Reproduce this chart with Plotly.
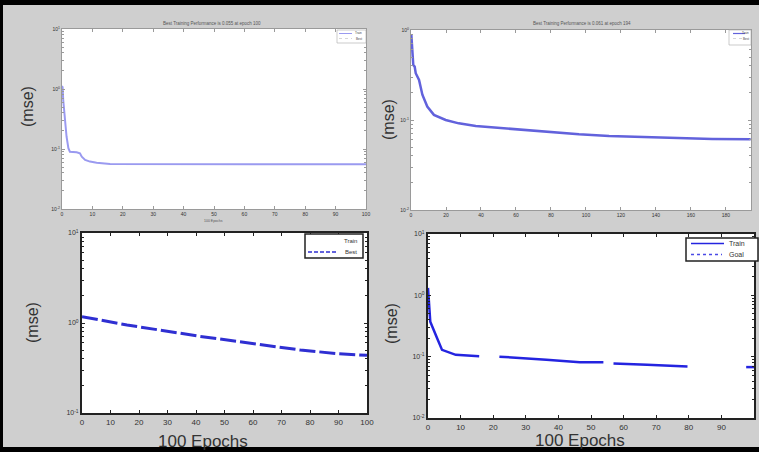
import plotly.graph_objects as go

W, H = 759, 452

# ---------------- data ----------------
# Panel 1 (top-left): training mse, 100 epochs
ep1 = [0, 0.2, 0.4, 1.0, 1.5, 2.1, 2.6, 4.8, 5.9, 6.5, 7.6, 9.2, 11.4, 15.8, 100]
mse1 = [1.122, 1.067, 0.656, 0.304, 0.160, 0.103, 0.0902, 0.0881, 0.0847, 0.0745,
        0.0656, 0.0617, 0.0592, 0.0562, 0.0556]

# Panel 2 (top-right): training mse
ep2 = [0.2, 0.76, 1.3, 2.1, 2.7, 4.6, 6.5, 9.3, 13.1, 19.8, 27.3, 37, 48.4, 61.7,
       75, 84.6, 96, 113.2, 126.5, 143.6, 162.7, 172.2, 194.1]
mse2 = [0.879, 0.653, 0.408, 0.392, 0.331, 0.278, 0.191, 0.141, 0.114, 0.100,
        0.0918, 0.0857, 0.0822, 0.0787, 0.0760, 0.0723, 0.0693, 0.0664, 0.0653,
        0.0637, 0.0621, 0.0615, 0.0610]

# Panel 3 (bottom-left): best (dashed)
ep3 = [0, 15.8, 40.4, 62.6, 76.6, 89.5, 100]
mse3 = [1.175, 0.951, 0.718, 0.579, 0.501, 0.457, 0.437]

# Panel 4 (bottom-right): training mse (gaps as in the reproduction)
ep4 = [0, 0.3, 0.5, 0.7, 2.8, 4.3, 8.5, 15.7, 18, 21.9, 29.1, 36.3, 46.6, 53.8, 55,
       56.9, 63.1, 67.2, 79.6, 88, 97.6, 100]
mse4 = [1.32, 0.75, 0.55, 0.372, 0.200, 0.129, 0.107, 0.102, None, 0.100, 0.0933,
        0.0891, 0.0813, 0.0813, None, 0.0776, 0.0741, 0.0735, 0.0692, None, 0.0676, 0.0676]

ticks10 = list(range(0, 101, 10))
ticks2 = list(range(0, 181, 20))
ylab_a = ["10<sup>-2</sup>", "10<sup>-1</sup>", "10<sup>0</sup>", "10<sup>1</sup>"]
yval_a = [0.01, 0.1, 1, 10]
ylab_b = ["10<sup>-2</sup>", "10<sup>-1</sup>", "10<sup>0</sup>"]
yval_b = [0.01, 0.1, 1]
ylab_c = ["10<sup>-1</sup>", "10<sup>0</sup>", "10<sup>1</sup>"]
yval_c = [0.1, 1, 10]

titles = ["Best Training Performance is 0.055 at epoch 100",
          "Best Training Performance is 0.061 at epoch 194"]
legend_names = [["Train", "Best"], ["Train", "Best"], ["Train", "Best"], ["Train", "Goal"]]

# ---------------- helpers ----------------
def px_x(p):
    return p / W

def px_y(p):
    return 1 - p / H

minor_log = [m * 10 ** k for k in range(-3, 2) for m in range(2, 10)]

FONT = "Liberation Sans, Arial, sans-serif"

def xaxis(x0, x1, anchor, rng, tv, fs, lc, lw):
    return dict(domain=[px_x(x0), px_x(x1)], anchor=anchor, range=rng,
                tickvals=tv, ticktext=[str(v) for v in tv], automargin=False,
                showline=True, mirror="ticks", linecolor=lc, linewidth=lw,
                ticks="inside", ticklen=3, tickcolor=lc, showgrid=False, zeroline=False,
                tickfont=dict(size=fs, color="#333", family=FONT))

def yaxis(y0, y1, anchor, rng, tv, tt, fs, lc, lw):
    return dict(domain=[px_y(y1), px_y(y0)], anchor=anchor, type="log", range=rng,
                tickvals=tv, ticktext=tt, automargin=False,
                showline=True, mirror="ticks", linecolor=lc, linewidth=lw,
                ticks="inside", ticklen=3, tickcolor=lc, showgrid=False, zeroline=False,
                minor=dict(ticks="inside", ticklen=2, tickvals=minor_log, tickcolor=lc,
                           showgrid=False),
                tickfont=dict(size=fs, color="#333", family=FONT))

fig = go.Figure()
fig.add_trace(go.Scatter(x=ep1, y=mse1, mode="lines", name="Train",
                         line=dict(color="#9a9af0", width=2), xaxis="x", yaxis="y"))
fig.add_trace(go.Scatter(x=ep2, y=mse2, mode="lines", name="Train",
                         line=dict(color="#6262dc", width=2.5), xaxis="x2", yaxis="y2"))
fig.add_trace(go.Scatter(x=ep3, y=mse3, mode="lines", name="Best",
                         line=dict(color="#2f2fd2", width=3, dash="16px,4px"),
                         xaxis="x3", yaxis="y3"))
fig.add_trace(go.Scatter(x=ep4, y=mse4, mode="lines", name="Train",
                         line=dict(color="#2424e0", width=2.5), connectgaps=False,
                         xaxis="x4", yaxis="y4"))

fig.update_layout(
    width=W, height=H, autosize=False,
    margin=dict(l=0, r=0, t=0, b=0, pad=0, autoexpand=False),
    paper_bgcolor="#cfcfcf", plot_bgcolor="white",
    showlegend=False,
    xaxis=xaxis(62, 366, "y", [0, 100], ticks10, 5, "#9a9a9a", 1),
    yaxis=yaxis(29, 209, "x", [-2, 1], yval_a, ylab_a, 5, "#9a9a9a", 1),
    xaxis2=xaxis(411, 751, "y2", [0, 194.3], ticks2, 5, "#9a9a9a", 1),
    yaxis2=yaxis(30, 210, "x2", [-2, 0], yval_b, ylab_b, 5, "#9a9a9a", 1),
    xaxis3=xaxis(82, 367, "y3", [0, 100], ticks10, 8, "#222", 2),
    yaxis3=yaxis(233, 413, "x3", [-1, 1], yval_c, ylab_c, 7, "#222", 2),
    xaxis4=xaxis(428, 754, "y4", [0, 100], ticks10, 8, "#222", 2),
    yaxis4=yaxis(234, 418, "x4", [-2, 1], yval_a, ylab_a, 7, "#222", 2),
)

ann = []
def text(x, y, s, size, color="#333", angle=0, xanchor="center"):
    ann.append(dict(x=px_x(x), y=px_y(y), xref="paper", yref="paper", text=s,
                    textangle=angle, showarrow=False, xanchor=xanchor, yanchor="middle",
                    font=dict(size=size, color=color, family=FONT)))

for x, y in [(28, 107), (389, 120), (32, 323), (391, 324)]:
    text(x, y, "(mse)", 16, angle=-90)
text(203, 441, "100 Epochs", 17)
text(580, 440, "100 Epochs", 17)
text(213, 220.5, "100 Epochs", 3.5, "#555")
text(212, 23, titles[0], 4.5, "#555")
text(582, 23, titles[1], 4.5, "#555")

shapes = []
def rect(x0, y0, x1, y1, fill, lc=None, lw=0):
    shapes.append(dict(type="rect", xref="paper", yref="paper",
                       x0=px_x(x0), x1=px_x(x1), y0=px_y(y1), y1=px_y(y0),
                       fillcolor=fill, line=dict(width=lw, color=lc or fill), layer="above"))

def hline(x0, x1, y, color, width, dash="solid"):
    shapes.append(dict(type="line", xref="paper", yref="paper",
                       x0=px_x(x0), x1=px_x(x1), y0=px_y(y), y1=px_y(y),
                       line=dict(color=color, width=width, dash=dash), layer="above"))

# legend panel 1
rect(337, 30, 366, 43, "white", "#aaaaaa", 0.6)
hline(339, 352, 33.5, "#9a9af0", 1)
hline(339, 352, 38.5, "#bbbbbb", 0.6, "dot")
text(364, 33.5, legend_names[0][0], 3, "#444", xanchor="right")
text(364, 38.5, legend_names[0][1], 3, "#444", xanchor="right")
# legend panel 2
rect(729, 30, 751, 45, "white", "#aaaaaa", 0.6)
hline(733, 745, 33.5, "#6262dc", 1.2)
hline(733, 745, 38.5, "#bbbbbb", 0.6, "dot")
text(751, 33.5, legend_names[1][0], 3, "#444", xanchor="right")
text(751, 38.5, legend_names[1][1], 3, "#444", xanchor="right")
# legend panel 3
rect(305, 234, 363, 258, "white", "#222", 1.5)
text(359, 241, legend_names[2][0], 6, "#333", xanchor="right")
hline(308, 338, 252, "#2f2fd2", 1.5, "4px,2px")
text(359, 252, legend_names[2][1], 6, "#333", xanchor="right")
# legend panel 4
rect(686, 238, 758, 261, "white", "#222", 1.5)
hline(691, 724, 243.5, "#2424e0", 1.5)
text(727, 243.5, legend_names[3][0], 7, "#333", xanchor="left")
hline(691, 722, 254.5, "#4a4ae6", 1.5, "3px,3px")
text(727, 254.5, legend_names[3][1], 7, "#333", xanchor="left")

# black frame of the screenshot
rect(0, 0, W, 5, "black")
rect(0, 447, W, H, "black")
rect(0, 0, 3, H, "black")

fig.update_layout(annotations=ann, shapes=shapes)
fig.write_html("out.html")
